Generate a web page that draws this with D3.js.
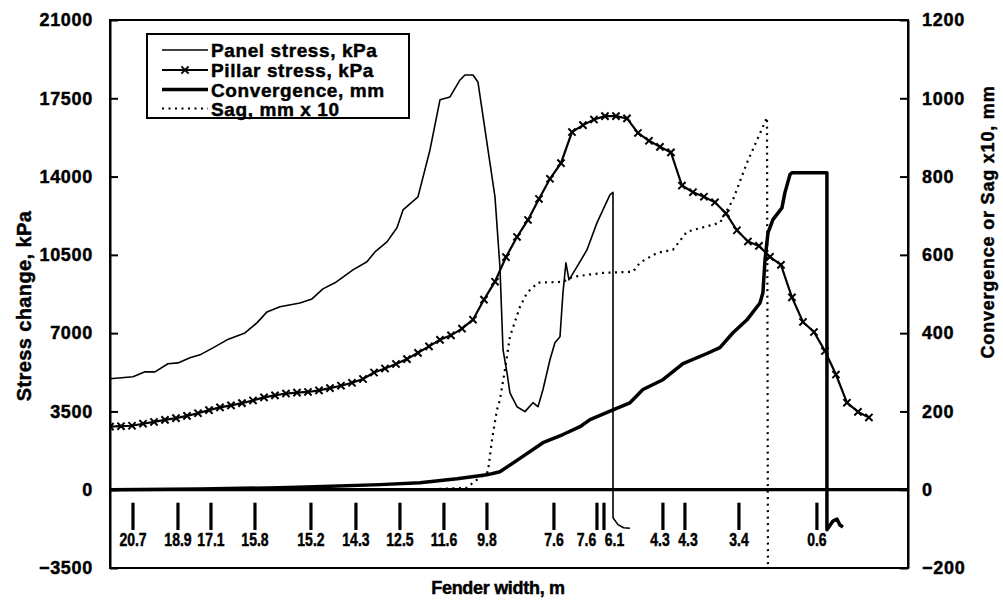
<!DOCTYPE html>
<html><head><meta charset="utf-8">
<script src="https://cdn.jsdelivr.net/npm/d3@7"></script>
<style>
html,body{margin:0;padding:0;background:#fff;}
svg{display:block;}
text{font-family:"Liberation Sans",Arial,Helvetica,sans-serif;font-weight:bold;fill:#000;stroke:#000;stroke-width:0.45px;}
</style></head><body>
<svg id="chart" width="1003" height="614"></svg>
<script>
// ---------- DATA ----------
const leftTicks  = [-3500, 0, 3500, 7000, 10500, 14000, 17500, 21000];
const rightTicks = [-200, 0, 200, 400, 600, 800, 1000, 1200];

// distance along the panel (arbitrary units)
const panelX = [0,2.09,3.18,4.09,5.27,6.18,7.27,8.18,9.36,10.64,12.27,13.36,14.27,15.45,17.27,18.36,19.36,20.45,22.09,23.36,24.09,25.18,26.09,26.64,28.0,29.09,30.0,30.91,31.82,32.27,33.0,33.45,35.0,35.45,35.73,36.09,36.36,37.0,37.73,38.45,38.91,39.36,40.0,40.45,40.91,41.18,41.45,41.73,42.45,43.36,44.27,45.45,45.73,45.73,46.18,46.7,47.27];
const panelStress = [4960,5050,5270,5270,5630,5670,5900,6030,6340,6700,7010,7460,7950,8180,8350,8530,8980,9250,9830,10190,10630,11080,11710,12510,13090,15190,17430,17560,18320,18540,18540,18230,13090,9960,6260,5230,4330,3710,3490,3890,3710,4470,5810,6570,6840,8800,10140,9380,9960,10720,11930,13180,13300,-1250,-1560,-1700,-1720];

// pillar stress sampled at regular steps (index = step)
const pillarStress = [2820,2840,2860,2950,3030,3120,3200,3300,3420,3560,3680,3770,3870,3990,4130,4220,4300,4340,4370,4440,4540,4650,4780,4950,5240,5420,5620,5840,6120,6410,6700,6900,7200,7600,8500,9300,10400,11300,12060,13000,13900,14600,15990,16300,16550,16700,16700,16600,15950,15600,15330,15080,13600,13300,13100,12850,12350,11600,11100,10900,10410,10050,8600,7500,7050,6200,5150,3890,3480,3230];

const convX = [0,8.18,15.45,19.36,24.55,28.18,31.55,34.27,35.45,37.27,39.36,41.18,42.73,43.64,45.73,47.27,48.45,50.27,52.09,54.27,55.45,56.64,57.91,59.09,59.36,59.55,59.82,60.27,61.09,61.36,61.82,62.0,65.18,65.18,65.73,66.09,66.36,66.64];
const convergence = [0,2,5,8,13,18,28,38,46,80,120,141,161,179,204,222,256,281,322,348,363,401,434,477,503,587,656,690,720,759,805,810,810,-102,-80,-75,-90,-95];

const sagX = [28.18,32.45,33.0,33.64,34.36,34.73,35.18,35.45,35.91,36.36,37.27,37.91,38.91,41.18,42.09,44.82,47.55,48.18,49.73,51.18,52.45,55.45,56.64,57.91,59.73,59.82];
const sag = [0,5,18,31,46,128,204,230,307,391,467,503,529,531,544,554,557,580,605,613,659,682,741,835,951,-200];

const fenderX = [2.09,6.18,9.18,13.18,18.27,22.36,26.36,30.36,34.27,40.36,44.27,44.91,50.27,52.27,57.18,64.27];
const fenderLabels = ["20.7","18.9","17.1","15.8","15.2","14.3","12.5","11.6","9.8","7.6","7.6","6.1","4.3","4.3","3.4","0.6"];

const legendItems = ["Panel stress, kPa","Pillar stress, kPa","Convergence, mm","Sag, mm x 10"];

// ---------- CHART ----------
const svg = d3.select("#chart");
const L = 110, R = 908, T = 20, B = 568;
const x = d3.scaleLinear().domain([0, 72.55]).range([L, R]);
const yL = d3.scaleLinear().domain([-3500, 21000]).range([B, T]);
const yR = d3.scaleLinear().domain([-200, 1200]).range([B, T]);

svg.append("rect").attr("width",1003).attr("height",614).attr("fill","#fff");
svg.append("defs").append("clipPath").attr("id","clip")
  .append("rect").attr("x",L).attr("y",T).attr("width",R-L).attr("height",B-T);

// axes
const axL = d3.axisLeft(yL).tickValues(leftTicks).tickSizeInner(-8).tickSizeOuter(0).tickPadding(17).tickFormat(d3.format("d"));
const gL = svg.append("g").attr("transform",`translate(${L},0)`).call(axL);
const axR = d3.axisRight(yR).tickValues(rightTicks).tickSizeInner(-8).tickSizeOuter(0).tickPadding(14).tickFormat(d3.format("d"));
const gR = svg.append("g").attr("transform",`translate(${R},0)`).call(axR);
[gL,gR].forEach(g=>{
  g.selectAll("path.domain").attr("stroke","#000").attr("stroke-width",2);
  g.selectAll(".tick line").attr("stroke","#000").attr("stroke-width",2);
  g.selectAll(".tick text").style("font-size","18px").style("letter-spacing","0.7px").attr("fill","#000")
    .style("font-family","'Liberation Sans',Arial,sans-serif").style("font-weight","bold")
    .style("stroke","#000").style("stroke-width","0.45px");
});
// frame
svg.append("rect").attr("x",L).attr("y",T).attr("width",R-L).attr("height",B-T)
  .attr("fill","none").attr("stroke","#000").attr("stroke-width",2);
// zero line
svg.append("line").attr("x1",L).attr("x2",R).attr("y1",yL(0)).attr("y2",yL(0))
  .attr("stroke","#000").attr("stroke-width",3.2);

// fender marks
const fb = svg.append("g");
fb.selectAll("line").data(fenderX).join("line")
  .attr("x1",d=>x(d)).attr("x2",d=>x(d))
  .attr("y1",yL(-580)).attr("y2",yL(-1800))
  .attr("stroke","#000").attr("stroke-width",3.2);
const lp = fenderX.map(d=>x(d));
for(let k=0;k<10;k++){
  for(let i=1;i<lp.length;i++){
    const gap = 28;
    if(lp[i]-lp[i-1] < gap){ const d=(gap-(lp[i]-lp[i-1]))/2; lp[i-1]-=d; lp[i]+=d; }
  }
}
fb.selectAll("text").data(fenderLabels).join("text")
  .attr("transform",(d,i)=>`translate(${lp[i]},546) scale(0.8,1)`).attr("text-anchor","middle")
  .style("font-size","17.5px").text(d=>d);

const plot = svg.append("g").attr("clip-path","url(#clip)");

// sag (dotted)
plot.append("path")
  .attr("d", d3.line().x((d,i)=>x(sagX[i])).y(d=>yR(d))(sag))
  .attr("fill","none").attr("stroke","#000").attr("stroke-width",2.2).attr("stroke-dasharray","2,4.5");

// convergence (thick)
plot.append("path")
  .attr("d", d3.line().x((d,i)=>x(convX[i])).y(d=>yR(d))(convergence))
  .attr("fill","none").attr("stroke","#000").attr("stroke-width",3.5).attr("stroke-linejoin","round");

// panel stress (thin)
plot.append("path")
  .attr("d", d3.line().x((d,i)=>x(panelX[i])).y(d=>yL(d))(panelStress))
  .attr("fill","none").attr("stroke","#000").attr("stroke-width",1.6).attr("stroke-linejoin","round");

// pillar stress (with x markers)
plot.append("path")
  .attr("d", d3.line().x((d,i)=>x(i)).y(d=>yL(d))(pillarStress))
  .attr("fill","none").attr("stroke","#000").attr("stroke-width",2.2);
const xMark = "M-3.6,-3.6L3.6,3.6M-3.6,3.6L3.6,-3.6";
plot.append("g").selectAll("path").data(pillarStress).join("path")
  .attr("transform",(d,i)=>`translate(${x(i)},${yL(d)})`)
  .attr("d",xMark).attr("stroke","#000").attr("stroke-width",2).attr("fill","none");

// legend
const lg = svg.append("g");
lg.append("rect").attr("x",147).attr("y",34).attr("width",262).attr("height",84)
  .attr("fill","#fff").attr("stroke","#000").attr("stroke-width",2);
const rows = [50,70,89.5,108.5];
const styles = [
  {w:1.6, dash:null, mark:false},
  {w:2.2, dash:null, mark:true},
  {w:3.5, dash:null, mark:false},
  {w:2.2, dash:"2,4.5", mark:false}
];
legendItems.forEach((t,i)=>{
  const yy = rows[i];
  const ln = lg.append("line").attr("x1",162).attr("x2",208).attr("y1",yy).attr("y2",yy)
    .attr("stroke","#000").attr("stroke-width",styles[i].w);
  if(styles[i].dash) ln.attr("stroke-dasharray",styles[i].dash);
  if(styles[i].mark) lg.append("path").attr("transform",`translate(185,${yy})`).attr("d",xMark)
    .attr("stroke","#000").attr("stroke-width",2);
  lg.append("text").attr("x",211).attr("y",yy+7).style("font-size","19px").style("letter-spacing","0.6px").text(t);
});

// axis titles
svg.append("text").attr("transform","translate(31,306) rotate(-90)").attr("text-anchor","middle")
  .style("font-size","20px").style("letter-spacing","0.4px").text("Stress change, kPa");
svg.append("text").attr("transform","translate(994,222) rotate(-90)").attr("text-anchor","middle")
  .style("font-size","18px").style("letter-spacing","0.8px").text("Convergence or Sag x10, mm");
svg.append("text").attr("x",498).attr("y",594).attr("text-anchor","middle")
  .style("font-size","18px").style("letter-spacing","-0.3px").text("Fender width, m");
</script>
</body></html>
